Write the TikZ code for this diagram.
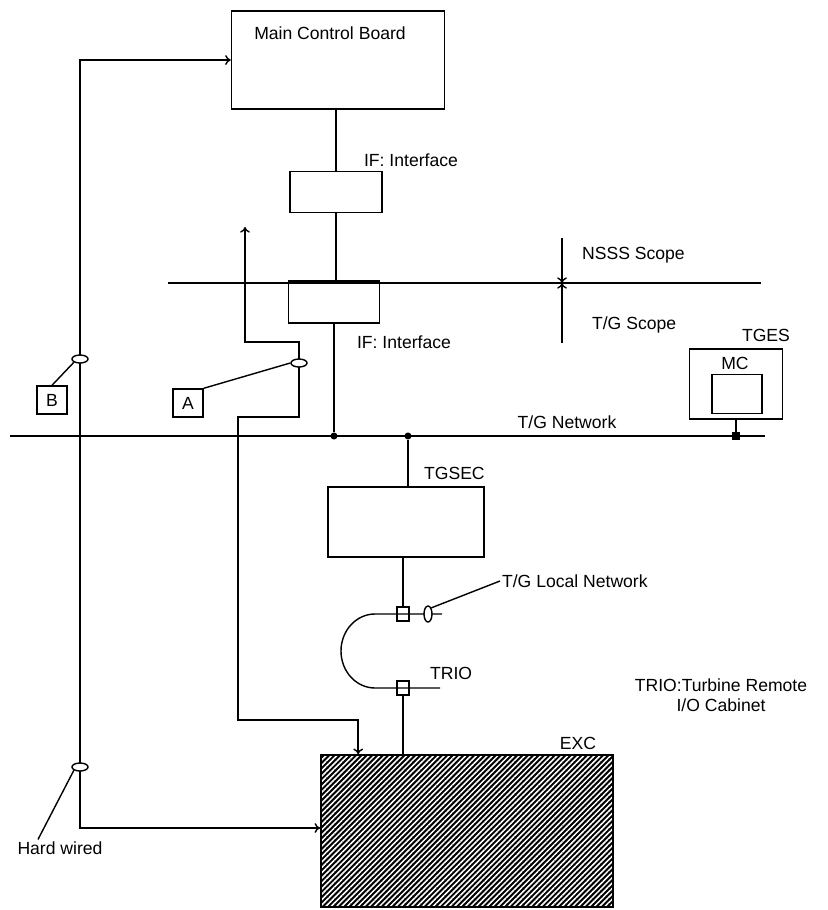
\documentclass[tikz,border=0pt]{standalone}
\usepackage{fontspec}
\setmainfont{Liberation Sans}
\usetikzlibrary{positioning,calc,shapes.geometric,patterns.meta,arrows.meta}

\begin{document}
\begin{tikzpicture}[
    x=0.025cm, y=-0.025cm, line width=1pt, >={To[length=4pt, width=7pt]},
    box/.style={rectangle, draw, inner sep=0pt},
    lbl/.style={font=\fontsize{12.5}{14.5}\selectfont, inner sep=1pt},
    tag/.style={box, minimum width=0.75cm, minimum height=0.7cm, font=\fontsize{12.5}{14.5}\selectfont},
    tie/.style={ellipse, draw, fill=white, minimum width=0.4cm, minimum height=0.2cm, inner sep=0pt},
    vtie/.style={tie, minimum width=0.2cm, minimum height=0.4cm},
    plug/.style={box, minimum width=0.3cm, minimum height=0.35cm},
    dot/.style={circle, fill, inner sep=0pt, minimum size=5pt},
    sqdot/.style={rectangle, fill, inner sep=0pt, minimum size=5pt}
]
    \useasboundingbox (0,0) rectangle (828,910);

    % Boxes
    \node[box, minimum width=5.325cm, minimum height=2.45cm] (mcb) at (338,60) {};
    \node[lbl, anchor=north] at (330,25) {Main Control Board};
    \node[box, minimum width=2.3cm, minimum height=1.025cm] (ifup) at (336,192) {};
    \node[lbl, anchor=west] at (362,160) {IF: Interface};
    \node[box, minimum width=2.275cm, minimum height=1.05cm] (iflow) at (334,302) {};
    \node[lbl, anchor=west] at (355,342) {IF: Interface};
    \node[box, minimum width=3.9cm, minimum height=1.75cm] (tgsec) at (406,522) {};
    \node[lbl, anchor=west] at (422,473) {TGSEC};
    \node[box, minimum width=2.325cm, minimum height=1.75cm] (tges) at (736,384) {};
    \node[lbl] at (766,335) {TGES};
    \node[box, minimum width=1.25cm, minimum height=0.975cm] (mc) at (737,394) {};
    \node[lbl] at (735,363) {MC};
    \node[box, minimum width=7.3cm, minimum height=3.8cm,
          preaction={fill=black},
          pattern={Lines[angle=45, distance=2.7pt, line width=1.1pt]},
          pattern color=white] (exc) at (467,831) {};
    \node[lbl] at (578,743) {EXC};

    % Scope boundary
    \coordinate (scopeL) at (168,283);
    \coordinate (scopeR) at (761,283);
    \draw (scopeL) -- (scopeR);
    \coordinate (nsss) at (562,238);
    \coordinate (tgs) at (562,343);
    \draw[->] (nsss) -- (nsss |- scopeL);
    \draw[->] (tgs) -- (tgs |- scopeL);
    \node[lbl, anchor=west] at (580,255) {NSSS Scope};
    \node[lbl, anchor=west] at (590,325) {T/G Scope};

    % T/G network
    \coordinate (netL) at (10,436);
    \coordinate (netR) at (765,436);
    \draw (netL) -- (netR);
    \node[lbl] at (567,422) {T/G Network};
    \node[dot] (j1) at (iflow.south |- netL) {};
    \node[dot] (j2) at (408,436) {};
    \node[sqdot] (j3) at (tges.south |- netL) {};

    % Edges
    \draw (mcb.south -| ifup.north) -- (ifup.north);
    \draw (ifup.south) -- (ifup.south |- iflow.north);
    \draw (iflow.south) -- (j1);
    \draw (j2) -- (j2 |- tgsec.north);
    \draw (tges.south) -- (j3);

    % Local network
    \node[plug] (plugtg) at (403,614) {};
    \node[plug] (plugtr) at (403,688) {};
    \draw (tgsec.south -| plugtg) -- (plugtg);
    \draw (442,614) -- (375,614) arc[start angle=270, end angle=90, x radius=34, y radius=37] -- (440,688);
    \draw (plugtr) -- (plugtr |- exc.north);
    \node[vtie] (tieln) at (428,614) {};
    \node[lbl, anchor=west] (lln) at (500,581) {T/G Local Network};
    \draw (tieln.north east) -- (lln.west);
    \node[lbl, anchor=west] at (428,673) {TRIO};
    \node[lbl, align=center] at (721,695) {TRIO:Turbine Remote\\I/O Cabinet};

    % Cable A
    \coordinate (aup) at (245,227);
    \coordinate (ajog) at (299,342);
    \coordinate (adown) at (238,417);
    \coordinate (afoot) at (238,720);
    \draw[<->] (aup) |- (ajog) |- (adown) -- (afoot) -| ($(exc.north west)+(38,0)$);
    \node[tie] (tiea) at (299,363) {};
    \node[tag] (taga) at (188,403) {A};
    \draw (taga.north east) -- (tiea.west);

    % Cable B, hard wired
    \coordinate (bbot) at (80,828);
    \draw[<->] (mcb.west) -| (bbot) -- (exc.west |- bbot);
    \node[tie] (tieb) at (80,359) {};
    \node[tag] (tagb) at (52,400) {B};
    \draw (tagb.north) -- (tieb.south west);
    \node[tie] (tiehw) at (80,767) {};
    \node[lbl] (hw) at (60,848) {Hard wired};
    \draw (tiehw.south west) -- ($(hw.north)+(-22,0)$);
\end{tikzpicture}
\end{document}
